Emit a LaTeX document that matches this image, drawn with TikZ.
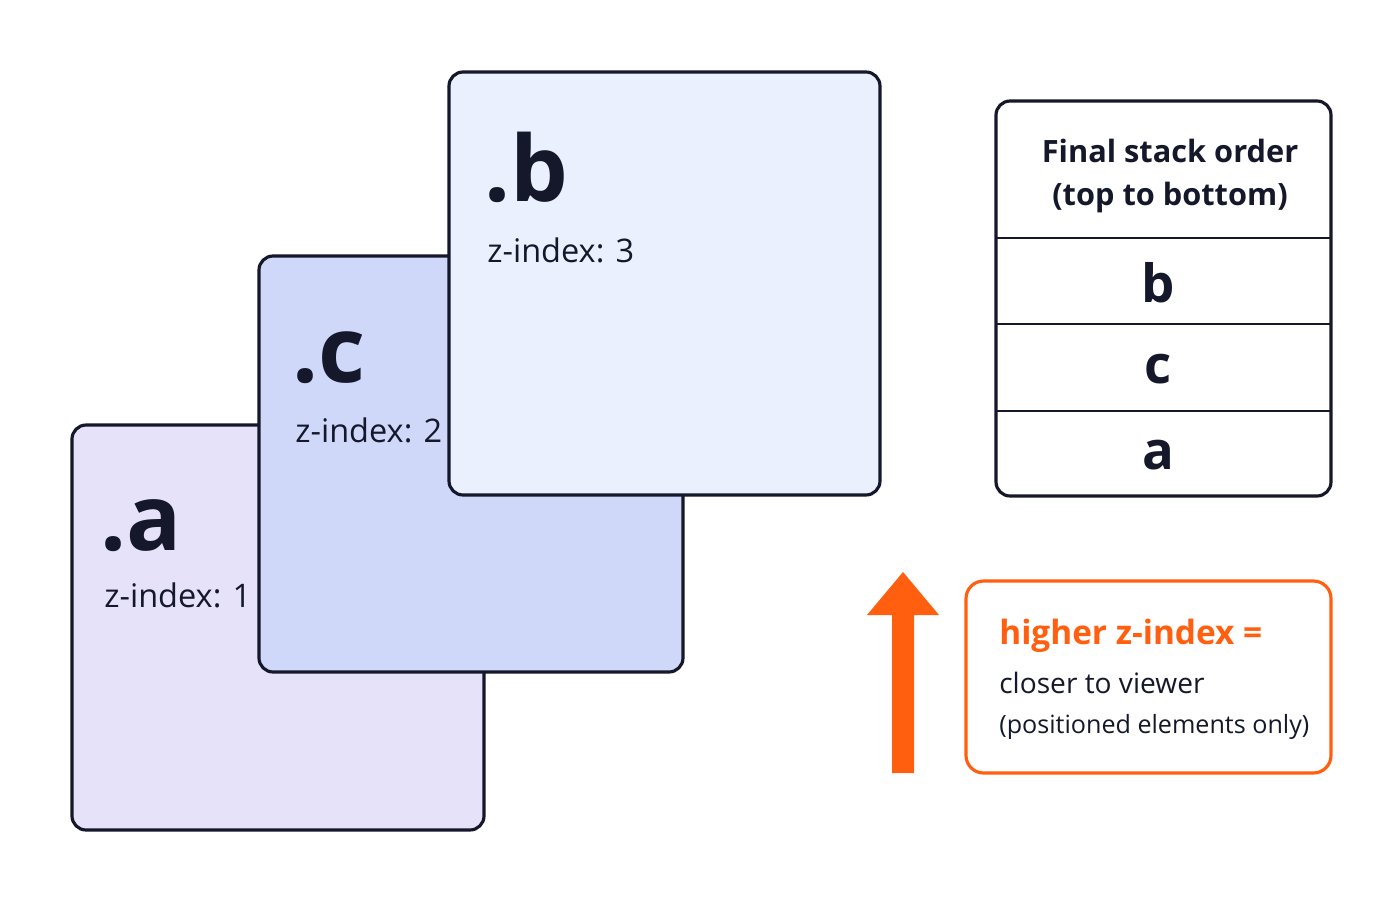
\documentclass[tikz,border=0pt]{standalone}
\usepackage{fontspec}
\setmainfont{Open Sans}
\definecolor{cardA}{HTML}{E6E2FA}
\definecolor{cardC}{HTML}{D0D8FA}
\definecolor{cardB}{HTML}{EAF0FE}
\definecolor{edge}{HTML}{14182A}
\definecolor{hot}{HTML}{FF5F0F}
\tikzset{
  card/.style={draw=edge, line width=1.8pt, rounded corners=8pt},
  big/.style={anchor=base west, inner sep=0pt, font=\fontsize{52}{52}\selectfont\bfseries, text=edge},
  zlab/.style={anchor=base west, inner sep=0pt, font=\fontsize{18.5}{18.5}\selectfont, text=edge},
  cell/.style={font=\fontsize{30}{30}\selectfont\bfseries, text=edge}
}
\begin{document}
\begin{tikzpicture}[x=0.02cm, y=-0.02cm]
 \useasboundingbox (0,0) rectangle (1400,900);

 % layers, drawn bottom first
 \draw[card, fill=cardA] (72,425) rectangle (484,830);
 \node[big]  (namea) at (100,550) {.a};
 \node[zlab] (za)    at (104,607) {z-index: 1};

 \draw[card, fill=cardC] (259,256) rectangle (683,672);
 \node[big]  (namec) at (292,382) {.c};
 \node[zlab] (zc)    at (295,442) {z-index: 2};

 \draw[card, fill=cardB] (449,72) rectangle (880,495);
 \node[big]  (nameb) at (484,201) {.b};
 \node[zlab] (zb)    at (487,262) {z-index: 3};

 % stack table
 \draw[card, fill=white] (996,101) rectangle (1331,496);
 \node[align=center, text=edge, font=\fontsize{17.5}{24}\selectfont\bfseries] (head) at (1170,176)
   {Final stack order\\(top to bottom)};
 \foreach \y in {238,324,411}
   \draw[edge, line width=1.2pt] (996,\y) -- (1331,\y);
 \foreach \y/\name in {283/b, 369/c, 455/a}
   \node[cell] (row\name) at (1158,\y) {\name};

 % note
 \fill[hot] (892,773) -- (914,773) -- (914,615) -- (939,615) -- (903,572)
   -- (867,615) -- (892,615) -- cycle;
 \draw[hot, line width=1.8pt, rounded corners=10pt, fill=white] (966,581) rectangle (1331,773);
 \node[anchor=base west, inner sep=0pt, text=hot, font=\fontsize{19}{19}\selectfont\bfseries] (hi) at (999,644) {higher z-index =};
 \node[anchor=base west, inner sep=0pt, text=edge, font=\fontsize{16}{16}\selectfont] (close) at (999,693) {closer to viewer};
 \node[anchor=base west, inner sep=0pt, text=edge, font=\fontsize{14.3}{15}\selectfont] (pos) at (999,733) {(positioned elements only)};
\end{tikzpicture}
\end{document}
